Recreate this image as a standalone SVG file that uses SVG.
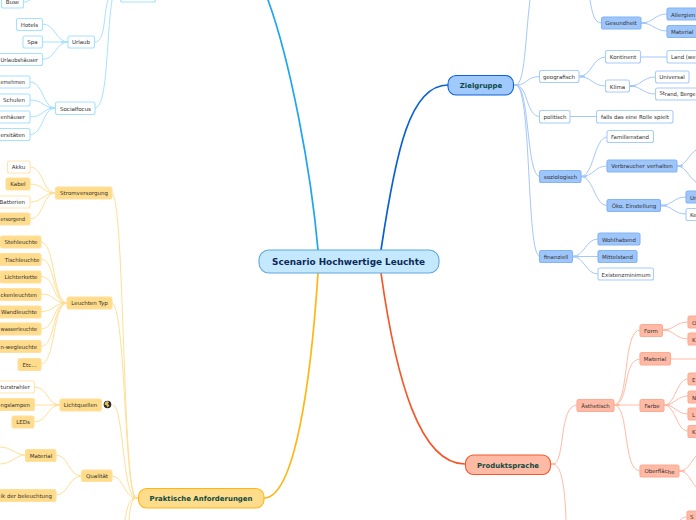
<svg xmlns="http://www.w3.org/2000/svg" width="696" height="520" viewBox="0 0 696 520">
<style>
text{font-family:"DejaVu Sans",Verdana,sans-serif;font-size:5.5px;fill:#303030;text-anchor:middle}
rect{stroke-width:1.1}
.c path{fill:none;stroke-width:1;stroke-linecap:round}
.c path.s{stroke-width:1.8}
.c path.m{stroke-width:1.7}
.cy path{stroke:#a6e2ff}.bl path{stroke:#a4c8fa}.or path{stroke:#ffdf96}.re path{stroke:#ffbba6}
.cyw rect{fill:#fff;stroke:#a6e2ff}
.blw rect{fill:#fff;stroke:#a8ccfb}.blf rect{fill:#9fc6fb;stroke:#82b4f7}
.orw rect{fill:#fff;stroke:#ffe5ad}.orf rect{fill:#ffdc8c;stroke:#ffe09c}
.ref rect{fill:#ffbaa5;stroke:#ffaa91}
.root text{font-weight:bold;font-size:6.950px;fill:#0c4a40}
.e{text-anchor:end}.b{text-anchor:start}
</style>
<g id="connectors" class="c">
<path class="m" stroke="#1fa5f0" d="M318 250C311 170 290 60 268 0"/>
<path class="m" stroke="#0a60d2" d="M381 250C396 150 410 85 448 85"/>
<path class="m" stroke="#ffb612" d="M318 273C311 380 295 498 264 498"/>
<path class="m" stroke="#f4582a" d="M381 273C396 380 420 464 465 464"/>
<g class="bl">
<path d="M516 85C525 85 525 40 530 0"/>
<path d="M516 85C528 85 526 76.500 539.500 76.500"/>
<path d="M516 85C528 85 526 116.500 539.500 116.500"/>
<path d="M516 85C530 85 526 176.500 539.500 176.500"/>
<path d="M516 85C532 85 526 256.500 539.500 256.500"/>
<path class="s" d="M514 85H518"/>
<path d="M590 0C592 12 594 23 601 23"/>
<path d="M641 23C654 23 654 14 667 14"/><path d="M641 23C654 23 654 31 667 31"/><path class="s" d="M641 23H646"/>
<path d="M579 76.500C592 76.500 592 57 605.500 57"/><path d="M579 76.500C592 76.500 592 86 605.500 86"/><path class="s" d="M579 76.500H584"/>
<path d="M640 57H667"/>
<path d="M629.500 86C642 86 642 77 655.500 77"/><path d="M629.500 86C642 86 642 94 655.500 94"/><path class="s" d="M629.500 86H635"/>
<path d="M570 116.500H596.500"/>
<path d="M581 176.500C594 176.500 594 137 607 137"/><path d="M581 176.500C594 176.500 594 166 607 166"/><path d="M581 176.500C594 176.500 594 205.500 607 205.500"/><path class="s" d="M581 176.500H586"/>
<path d="M677 166C686 166 688 155 696 150"/><path d="M677 166C686 166 688 177 696 182"/><path class="s" d="M677 166H682"/>
<path d="M660.500 205.500C673 205.500 673 197 686 197"/><path d="M660.500 205.500C673 205.500 673 214 686 214"/><path class="s" d="M660.500 205.500H666"/>
<path d="M572.500 256.500C585 256.500 585 239 598 239"/><path d="M572.500 256.500H598"/><path d="M572.500 256.500C585 256.500 585 274 598 274"/><path class="s" d="M572.500 256.500H578"/>
</g>
<g class="re">
<path d="M553 464C566 464 558 405 577 405"/>
<path d="M553 464C562 464 565 490 566 520"/>
<path class="s" d="M551 464H555"/>
<path d="M614 405C630 405 622 330 640 330"/><path d="M614 405C630 405 622 359 640 359"/><path d="M614 405H640"/><path d="M614 405C630 405 622 471 640 471"/><path class="s" d="M614 405H619"/>
<path d="M662.500 330C675 330 675 322 688 322"/><path d="M662.500 330C675 330 675 339 688 339"/><path class="s" d="M662.500 330H668"/>
<path d="M670.500 359H696"/>
<path d="M664 405C676 405 676 379 688 379"/><path d="M664 405C676 405 676 396 688 396"/><path d="M664 405C676 405 676 414 688 414"/><path d="M664 405C676 405 676 431 688 431"/><path class="s" d="M664 405H669"/>
<path d="M679 471C688 471 690 463 696 456"/><path d="M679 471C688 471 690 480 696 487"/><path class="s" d="M679 471H684"/>
<path d="M687 517C684 517 682 518 680 520"/>
</g>
<g class="or">
<path d="M136 498C122 498 125 193 112 193"/>
<path d="M136 498C124 498 126 303 112 303"/>
<path d="M136 498C122 498 124 405 113 405"/>
<path d="M136 498C124 498 124 476 112 476"/>
<path d="M136 498C128 498 127 510 125 520"/><path d="M136 498C131 498 130 510 129 520"/>
<path class="s" d="M133 498H138"/>
<path d="M55.500 193C42 193 44 167 30 167"/><path d="M55.500 193C42 193 44 184 30 184"/><path d="M55.500 193C42 193 44 202 30 202"/><path d="M55.500 193C42 193 44 219 30 219"/><path class="s" d="M50 193H55.500"/>
<path d="M67 303C52 303 56 242 41 242"/><path d="M67 303C52 303 56 259 41 259"/><path d="M67 303C52 303 56 276.500 41 276.500"/><path d="M67 303C52 303 56 294 41 294"/><path d="M67 303C52 303 56 311.500 41 311.500"/><path d="M67 303C52 303 56 329 41 329"/><path d="M67 303C52 303 56 346.500 41 346.500"/><path d="M67 303C52 303 56 364 41 364"/><path class="s" d="M61 303H67"/>
<path d="M60 405C47 405 48 387 34.500 387"/><path d="M60 405H34.500"/><path d="M60 405C47 405 48 422 34 422"/><path class="s" d="M55 405H60"/>
<path d="M25 455C15 455 12 447 0 447"/><path d="M25 455C15 455 12 464 0 464"/>
<path d="M81.500 476C68 476 69 455 56 455"/><path d="M81.500 476C68 476 69 495 56 495"/>
</g>
<g class="cy">
<path d="M95 42C106 42 103 15 108 0"/>
<path d="M95 108C108 108 106 40 112 0"/>
<path d="M68 42C55 42 56 24 42.500 24"/><path d="M68 42H42.500"/><path d="M68 42C55 42 56 59.500 42.500 59.500"/><path class="s" d="M62 42H68"/>
<path d="M55.500 108C42 108 44 82 30 82"/><path d="M55.500 108C42 108 44 100 30 100"/><path d="M55.500 108C42 108 44 117 30 117"/><path d="M55.500 108C42 108 44 134.500 30 134.500"/><path class="s" d="M50 108H55.500"/>
<path d="M24 2C27 2 28 1 30 0"/>
</g>
</g>
<g class="cyw">
<g id="n-top"><rect x="120.500" y="-8" width="35" height="10" rx="2"/></g>
<g id="n-buse"><rect x="1.500" y="-4" width="22" height="12" rx="2"/><text x="12.500" y="4">Buse</text></g>
<g id="n-hotels"><rect x="16.500" y="18.500" width="26" height="12" rx="2"/><text x="29.500" y="26.500">Hotels</text></g>
<g id="n-spa"><rect x="23" y="36" width="19.500" height="12" rx="2"/><text x="32.500" y="44">Spa</text></g>
<g id="n-urlaubshaeuser"><rect x="-3" y="53.500" width="45.500" height="12" rx="2"/><text class="e" x="38" y="62" textLength="37.500" lengthAdjust="spacingAndGlyphs">Urlaubshäuser</text></g>
<g id="n-urlaub"><rect x="68" y="36" width="26.500" height="12" rx="2"/><text x="81" y="44">Urlaub</text></g>
<g id="n-unternehmen"><rect x="-15" y="76" width="45" height="12" rx="2"/><text class="e" x="25" y="84" textLength="24.500" lengthAdjust="spacingAndGlyphs">ernehmen</text></g>
<g id="n-schulen"><rect x="-3" y="94" width="33" height="12" rx="2"/><text class="e" x="25" y="102">Schulen</text></g>
<g id="n-krankenhaeuser"><rect x="-15" y="111" width="45" height="12" rx="2"/><text class="e" x="25" y="119" textLength="24.500" lengthAdjust="spacingAndGlyphs">enhäuser</text></g>
<g id="n-universitaeten"><rect x="-15" y="128.500" width="45" height="12" rx="2"/><text class="e" x="25" y="137" textLength="24.500" lengthAdjust="spacingAndGlyphs">ersitäten</text></g>
<g id="n-socialfocus"><rect x="55.500" y="102" width="39.500" height="12.500" rx="2"/><text x="75.500" y="110.500">Socialfocus</text></g>
</g>
<g class="orf">
<g id="n-strom"><rect x="55.500" y="187" width="56.500" height="12" rx="2"/><text x="84" y="195">Stromversorgung</text></g>
<g id="n-kabel"><rect x="6" y="178" width="24" height="12" rx="2"/><text x="18" y="186">Kabel</text></g>
<g id="n-versorgend"><rect x="-15" y="213" width="45" height="12" rx="2"/><text class="e" x="25" y="221" textLength="24.500" lengthAdjust="spacingAndGlyphs">ersorgend</text></g>
<g id="n-steh"><rect x="0.500" y="236" width="40.500" height="12" rx="2"/><text x="21" y="244">Stehleuchte</text></g>
<g id="n-tisch"><rect x="-1" y="253.500" width="42" height="12" rx="2"/><text x="22" y="261.500">Tischleuchte</text></g>
<g id="n-lichterkette"><rect x="0" y="271" width="41" height="12" rx="2"/><text x="21" y="279">Lichterkette</text></g>
<g id="n-decken"><rect x="-15" y="288.500" width="56" height="12" rx="2"/><text class="e" x="37" y="296.500" textLength="36.500" lengthAdjust="spacingAndGlyphs">ckenleuchten</text></g>
<g id="n-wand"><rect x="-3" y="306" width="44" height="12" rx="2"/><text class="e" x="37" y="314">Wandleuchte</text></g>
<g id="n-wasser"><rect x="-15" y="323" width="56" height="12" rx="2"/><text class="e" x="37" y="331" textLength="36.500" lengthAdjust="spacingAndGlyphs">wasserleuchte</text></g>
<g id="n-weg"><rect x="-15" y="340.500" width="56" height="12" rx="2"/><text class="e" x="37" y="348.500" textLength="36.500" lengthAdjust="spacingAndGlyphs">n-wegleuchte</text></g>
<g id="n-etc"><rect x="18" y="358.500" width="23" height="12" rx="2"/><text x="29.500" y="366.500">Etc...</text></g>
<g id="n-leuchten"><rect x="67" y="297" width="45" height="12" rx="2"/><text x="89.500" y="305">Leuchten Typ</text></g>
<g id="n-lampen"><rect x="-15" y="398.500" width="49.500" height="12" rx="2"/><text class="e" x="30" y="406.500" textLength="29.500" lengthAdjust="spacingAndGlyphs">ngslampen</text></g>
<g id="n-leds"><rect x="12" y="416" width="22" height="12" rx="2"/><text x="23" y="424">LEDs</text></g>
<g id="n-lichtquellen"><rect x="60" y="399" width="41.500" height="12" rx="2"/><text x="80.500" y="407">Lichtquellen</text></g>
<g id="n-material1"><rect x="25.500" y="449.500" width="30.500" height="12" rx="2"/><text x="41" y="457.500">Material</text></g>
<g id="n-qualitaet"><rect x="81.500" y="470" width="30.500" height="11.500" rx="2"/><text x="97" y="478">Qualität</text></g>
<g id="n-beleuchtung"><rect x="-15" y="489.500" width="71" height="12" rx="2"/><text class="e" x="52" y="497.500" textLength="51.500" lengthAdjust="spacingAndGlyphs">ik der beleuchtung</text></g>
</g>
<g class="orw">
<g id="n-akku"><rect x="7.500" y="161" width="22.500" height="12" rx="2"/><text x="18.500" y="169">Akku</text></g>
<g id="n-batterien"><rect x="-3" y="196" width="33" height="12" rx="2"/><text class="e" x="25" y="204">Batterien</text></g>
<g id="n-strahler"><rect x="-15" y="381" width="49.500" height="12" rx="2"/><text class="e" x="30" y="389" textLength="29.500" lengthAdjust="spacingAndGlyphs">turstrahler</text></g>
</g>
<g id="n-icon"><circle cx="107.500" cy="404.500" r="3.800" fill="#2a2a22"/><path d="M105 402.500l2-1.500 2 1-1 2 1.500 1.500-2 2-1-2-2-1z" fill="#d8b860"/></g>
<g class="blf">
<g id="n-gesundheit"><rect x="601.500" y="17" width="39.500" height="12" rx="2"/><text x="621" y="25">Gesundheit</text></g>
<g id="n-allergien"><rect x="667" y="8" width="40" height="12" rx="2"/><text class="b" x="671" y="16.500">Allergien</text></g>
<g id="n-material2"><rect x="667" y="25.500" width="40" height="12" rx="2"/><text class="b" x="671" y="34">Material</text></g>
<g id="n-soziologisch"><rect x="539.500" y="170.500" width="41.500" height="12" rx="2"/><text x="560.500" y="179">soziologisch</text></g>
<g id="n-verbraucher"><rect x="607" y="160" width="70" height="12" rx="2"/><text x="642" y="168">Verbraucher verhalten</text></g>
<g id="n-oeko"><rect x="607" y="199.500" width="53.500" height="12" rx="2"/><text x="634" y="208">Öko. Einstellung</text></g>
<g id="n-un"><rect x="686" y="191" width="20" height="12" rx="2"/><text class="b" x="690" y="199.500">Un</text></g>
<g id="n-finanziell"><rect x="539.500" y="250.500" width="33" height="12" rx="2"/><text x="556" y="259">finanziell</text></g>
<g id="n-wohlhabend"><rect x="598" y="233" width="42" height="12" rx="2"/><text x="619" y="241.500">Wohlhabend</text></g>
<g id="n-mittelstand"><rect x="598" y="250.500" width="39" height="12" rx="2"/><text x="617.500" y="259">Mittelstand</text></g>
</g>
<g class="blw">
<g id="n-kontinent"><rect x="605.500" y="50.500" width="35" height="12.500" rx="2"/><text x="623" y="59">Kontinent</text></g>
<g id="n-land"><rect x="667" y="50.500" width="40" height="12.500" rx="2"/><text class="b" x="671" y="59" textLength="24.500" lengthAdjust="spacingAndGlyphs">Land (we</text></g>
<g id="n-klima"><rect x="605.500" y="80" width="24" height="12" rx="2"/><text x="617.500" y="88.500">Klima</text></g>
<g id="n-universal"><rect x="655.500" y="71" width="33.500" height="12" rx="2"/><text x="672" y="79">Universal</text></g>
<g id="n-strand"><rect x="655.500" y="88" width="50" height="12" rx="2"/><text class="b" x="659.500" y="95" textLength="36" lengthAdjust="spacingAndGlyphs">St<tspan dy="1">rand, Berge</tspan></text></g>
<g id="n-geografisch"><rect x="539.500" y="70.500" width="39.500" height="12" rx="2"/><text x="559" y="79">geografisch</text></g>
<g id="n-politisch"><rect x="539.500" y="110.500" width="30.500" height="12.500" rx="2"/><text x="555" y="119">politisch</text></g>
<g id="n-falls"><rect x="596.500" y="110.500" width="76.500" height="12.500" rx="2"/><text x="635" y="119">falls das eine Rolle spielt</text></g>
<g id="n-familienstand"><rect x="607" y="130.500" width="46.500" height="12" rx="2"/><text x="630" y="139">Familienstand</text></g>
<g id="n-ke"><rect x="686" y="208.500" width="20" height="12" rx="2"/><text class="b" x="690" y="217">Ke</text></g>
<g id="n-existenz"><rect x="598" y="268" width="55.500" height="12" rx="2"/><text x="626" y="276.500">Existenzminimum</text></g>
</g>
<g class="ref">
<g id="n-aesthetisch"><rect x="577" y="399.500" width="37" height="12" rx="2"/><text x="595.500" y="407.500">Ästhetisch</text></g>
<g id="n-form"><rect x="640" y="324.500" width="22.500" height="12" rx="2"/><text x="651" y="332.500">Form</text></g>
<g id="n-material3"><rect x="640" y="352.500" width="30.500" height="12.500" rx="2"/><text x="655" y="361">Material</text></g>
<g id="n-farbe"><rect x="640" y="399.500" width="24" height="12" rx="2"/><text x="652" y="407.500">Farbe</text></g>
<g id="n-oberflaeche"><rect x="640" y="465" width="39" height="12" rx="2"/><text x="659.500" y="472.500">Oberfläc<tspan dy="1">he</tspan></text></g>
<g id="n-o"><rect x="688" y="316" width="16" height="12" rx="2"/><text class="b" x="692" y="324.500">O</text></g>
<g id="n-k1"><rect x="688" y="333" width="16" height="12" rx="2"/><text class="b" x="692" y="341.500">K</text></g>
<g id="n-e"><rect x="688" y="373" width="16" height="12" rx="2"/><text class="b" x="692" y="381.500">E</text></g>
<g id="n-n"><rect x="688" y="391" width="16" height="12" rx="2"/><text class="b" x="692" y="399.500">N</text></g>
<g id="n-l"><rect x="688" y="408" width="16" height="12" rx="2"/><text class="b" x="692" y="416.500">L</text></g>
<g id="n-k2"><rect x="688" y="425.500" width="16" height="12" rx="2"/><text class="b" x="692" y="434">K</text></g>
<g id="n-s"><rect x="687" y="511" width="16" height="12" rx="2"/><text class="b" x="690" y="519">S</text></g>
</g>
<g id="n-central"><rect x="259" y="250" width="180" height="23" rx="10" fill="#c4e9ff" stroke="#5fa8dc"/><text x="348.500" y="264.500" style="font-weight:bold;font-size:8.900px;fill:#0c2a58">Scenario Hochwertige Leuchte</text></g>
<g id="n-ziel" class="root"><rect x="448" y="75.500" width="65.500" height="19.500" rx="8" fill="#9fc9ff" stroke="#0e63d8"/><text x="481" y="88">Zielgruppe</text></g>
<g id="n-prakt" class="root"><rect x="138.500" y="488.500" width="125.500" height="19.500" rx="8" fill="#ffdc8c" stroke="#ffb612"/><text x="201" y="501">Praktische Anforderungen</text></g>
<g id="n-produkt" class="root"><rect x="465.500" y="455" width="85" height="19.500" rx="8" fill="#ffbaa5" stroke="#f4582a"/><text x="508" y="467.500">Produktsprache</text></g>
</svg>
